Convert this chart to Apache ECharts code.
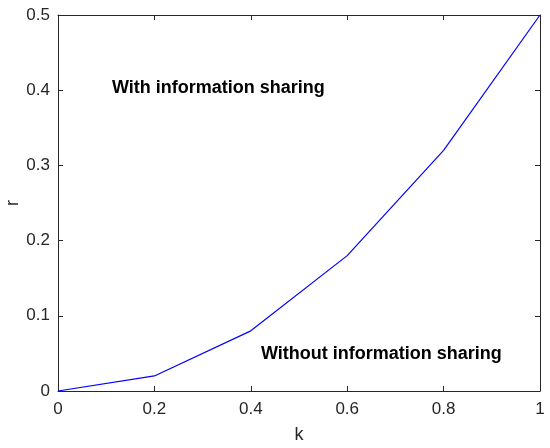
<!DOCTYPE html>
<html><head><meta charset="utf-8">
<script src="https://cdn.jsdelivr.net/npm/echarts@6/dist/echarts.min.js"></script>
<style>html,body{margin:0;padding:0;background:#fff}#c{width:550px;height:448px}</style>
</head><body><div id="c"></div>
<script>
const kValues = [0, 0.2, 0.4, 0.6, 0.8, 1];
const rValues = [0, 0.02, 0.08, 0.18, 0.32, 0.5];
const xTicks = [0, 0.2, 0.4, 0.6, 0.8, 1];
const yTicks = [0, 0.1, 0.2, 0.3, 0.4, 0.5];
const xLabel = 'k';
const yLabel = 'r';
const annotations = ['With information sharing', 'Without information sharing'];

const chart = echarts.init(document.getElementById('c'), null, {renderer: 'canvas'});
const font = '"Liberation Sans", Arial, Helvetica, sans-serif';
const axisCommon = {
  axisLine: {show: true, onZero: false, lineStyle: {color: '#262626', width: 1}},
  axisTick: {show: true, inside: true, length: 5, lineStyle: {color: '#262626'}},
  splitLine: {show: false}
};
const fmt = v => String(+v.toFixed(1));
chart.setOption({
  animation: false,
  grid: {left: 58, right: 10, top: 15, bottom: 57, containLabel: false, outerBoundsMode: 'none'},
  xAxis: [
    Object.assign({type: 'value', min: xTicks[0], max: xTicks[xTicks.length-1], interval: 0.2, position: 'bottom',
      axisLabel: {fontFamily: font, fontSize: 17, color: '#262626', margin: 10, formatter: fmt}}, axisCommon),
    Object.assign({type: 'value', min: xTicks[0], max: xTicks[xTicks.length-1], interval: 0.2, position: 'top',
      axisLabel: {show: false}}, axisCommon)
  ],
  yAxis: [
    Object.assign({type: 'value', min: yTicks[0], max: yTicks[yTicks.length-1], interval: 0.1, position: 'left',
      axisLabel: {fontFamily: font, fontSize: 17, color: '#262626', margin: 8, formatter: fmt}}, axisCommon),
    Object.assign({type: 'value', min: yTicks[0], max: yTicks[yTicks.length-1], interval: 0.1, position: 'right',
      axisLabel: {show: false}}, axisCommon)
  ],
  series: [{
    type: 'line',
    data: kValues.map((k, i) => [k, rValues[i]]),
    showSymbol: false,
    symbol: 'none',
    lineStyle: {color: '#0000ff', width: 1.2},
    xAxisIndex: 0, yAxisIndex: 0
  }],
  graphic: [
    {type: 'text', x: 299, y: 435, style: {text: xLabel, font: '18px ' + font, fill: '#262626', align: 'center', verticalAlign: 'middle'}},
    {type: 'text', x: 13, y: 203, rotation: Math.PI / 2, style: {text: yLabel, font: '18px ' + font, fill: '#262626', align: 'center', verticalAlign: 'middle'}},
    {type: 'text', left: 112, top: 79, style: {text: annotations[0], font: 'bold 18px ' + font, fill: '#000'}},
    {type: 'text', left: 261, top: 345, style: {text: annotations[1], font: 'bold 18px ' + font, fill: '#000'}}
  ]
});
</script></body></html>
